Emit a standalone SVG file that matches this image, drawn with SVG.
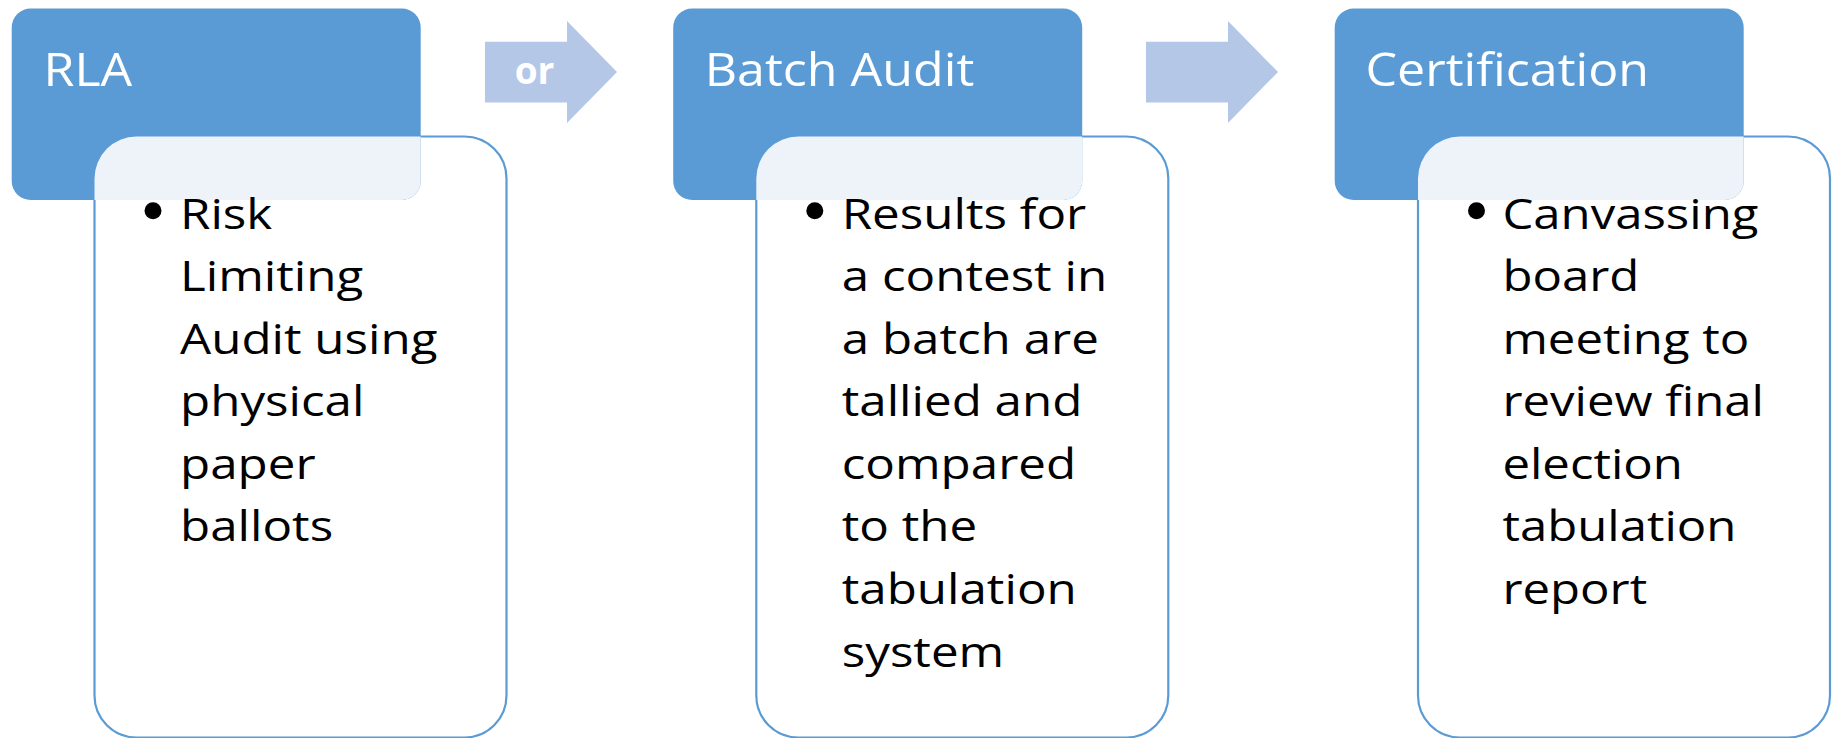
<svg xmlns="http://www.w3.org/2000/svg" width="1835" height="738" viewBox="0 0 1835 738">
  <style>
    .hdr { fill: #5B9BD5; }
    .body { fill: #FFFFFF; stroke: #5B9BD5; stroke-width: 2.2; }
    .ovl { fill: #EEF3FA; }
    .arrow { fill: #B4C7E7; }
    .htxt { font-family: "Open Sans", "Noto Sans", "Liberation Sans", sans-serif; font-size: 46px; fill: #FFFFFF; }
    .btxt { font-family: "Open Sans", "Noto Sans", "Liberation Sans", sans-serif; font-size: 42.5px; fill: #000000; }
    .or { font-family: "Open Sans", "Noto Sans", "Liberation Sans", sans-serif; font-size: 37px; font-weight: bold; fill: #FFFFFF; text-anchor: middle; }
    .bullet { fill: #000000; }
  </style>

  <g id="connectors">
    <g id="arrow-or">
      <path class="arrow" d="M485,41.7 H567 V21 L617,72 L567,123 V102.5 H485 Z"/>
      <text class="or" x="534.5" y="83.5">or</text>
    </g>
    <g id="arrow-2">
      <path class="arrow" d="M1146,41.7 H1228 V21 L1278,72 L1228,123 V102.5 H1146 Z"/>
    </g>
  </g>

  <g id="node-rla">
    <rect class="body" x="94.5" y="136.5" width="412" height="601" rx="42" ry="42"/>
    <rect class="hdr" x="11.7" y="8.5" width="409" height="191.5" rx="19" ry="19"/>
    <path class="ovl" d="M94.5,178.5 A42,42 0 0 1 136.5,136.5 H420.7 V181 A19,19 0 0 1 401.7,200 H94.5 Z"/>
    <text class="htxt" transform="translate(43.5,85.5) scale(1.09,1)">RLA</text>
    <circle class="bullet" cx="153" cy="210.7" r="8.5"/>
    <text class="btxt" transform="translate(180,228.5) scale(1.16,1)">
      <tspan x="0" y="0">Risk</tspan>
      <tspan x="0" y="62.6">Limiting</tspan>
      <tspan x="0" y="125.2">Audit using</tspan>
      <tspan x="0" y="187.8">physical</tspan>
      <tspan x="0" y="250.4">paper</tspan>
      <tspan x="0" y="313">ballots</tspan>
    </text>
  </g>

  <g id="node-batch-audit">
    <rect class="body" x="756.3" y="136.5" width="412" height="601" rx="42" ry="42"/>
    <rect class="hdr" x="673.2" y="8.5" width="409" height="191.5" rx="19" ry="19"/>
    <path class="ovl" d="M756.3,178.5 A42,42 0 0 1 798.3,136.5 H1082.2 V181 A19,19 0 0 1 1063.2,200 H756.3 Z"/>
    <text class="htxt" transform="translate(704.7,85.5) scale(1.09,1)">Batch Audit</text>
    <circle class="bullet" cx="814.8" cy="210.7" r="8.5"/>
    <text class="btxt" transform="translate(841.7,228.5) scale(1.16,1)">
      <tspan x="0" y="0">Results for</tspan>
      <tspan x="0" y="62.6">a contest in</tspan>
      <tspan x="0" y="125.2">a batch are</tspan>
      <tspan x="0" y="187.8">tallied and</tspan>
      <tspan x="0" y="250.4">compared</tspan>
      <tspan x="0" y="313">to the</tspan>
      <tspan x="0" y="375.6">tabulation</tspan>
      <tspan x="0" y="438.2">system</tspan>
    </text>
  </g>

  <g id="node-certification">
    <rect class="body" x="1418" y="136.5" width="412" height="601" rx="42" ry="42"/>
    <rect class="hdr" x="1334.7" y="8.5" width="409" height="191.5" rx="19" ry="19"/>
    <path class="ovl" d="M1418,178.5 A42,42 0 0 1 1460,136.5 H1743.7 V181 A19,19 0 0 1 1724.7,200 H1418 Z"/>
    <text class="htxt" transform="translate(1365.5,85.5) scale(1.09,1)">Certification</text>
    <circle class="bullet" cx="1476.5" cy="210.7" r="8.5"/>
    <text class="btxt" transform="translate(1502.4,228.5) scale(1.155,1)">
      <tspan x="0" y="0">Canvassing</tspan>
      <tspan x="0" y="62.6">board</tspan>
      <tspan x="0" y="125.2">meeting to</tspan>
      <tspan x="0" y="187.8">review final</tspan>
      <tspan x="0" y="250.4">election</tspan>
      <tspan x="0" y="313">tabulation</tspan>
      <tspan x="0" y="375.6">report</tspan>
    </text>
  </g>
</svg>
